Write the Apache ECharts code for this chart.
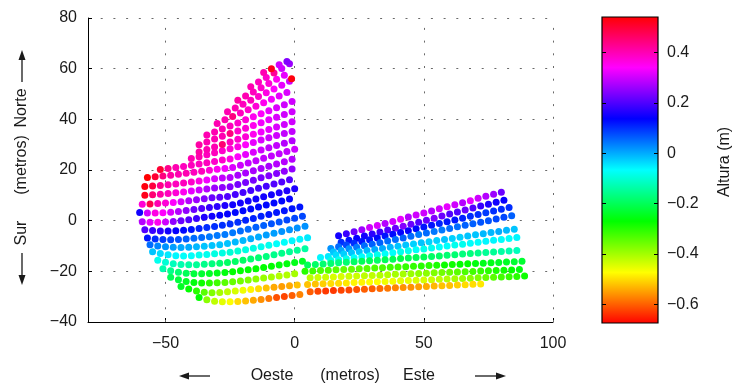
<!DOCTYPE html>
<html><head><meta charset="utf-8">
<script src="https://cdn.jsdelivr.net/npm/echarts@6/dist/echarts.min.js"></script>
<style>html,body{margin:0;padding:0;background:#fff}#c{width:733px;height:385px}</style>
</head><body><div id="c"></div><script>
// ---- data: survey transects, each point [x (m), y (m), altura (m)] ----
const W01 = [[-37,-30.3,-0.27],[-34,-31.2,-0.38],[-31,-31.8,-0.42],[-28,-32,-0.45],[-25,-32,-0.47],[-22,-31.9,-0.5],[-19,-31.7,-0.52],[-16,-31.4,-0.54],[-13,-31.1,-0.56],[-10,-30.7,-0.58],[-7,-30.3,-0.61],[-4,-29.9,-0.62],[-1,-29.5,-0.6],[2,-29.1,-0.57]];
const W02 = [[-44,-26,-0.24],[-41,-27,-0.27],[-38,-27.8,-0.3],[-35,-28.3,-0.34],[-32,-28.5,-0.37],[-29,-28.4,-0.4],[-26,-28.1,-0.42],[-23,-27.8,-0.44],[-20,-27.5,-0.46],[-17,-27.2,-0.48],[-14,-26.9,-0.5],[-11,-26.6,-0.52],[-8,-26.3,-0.54],[-5,-26,-0.55],[-2,-25.7,-0.54],[1,-25.4,-0.52]];
const W03 = [[-48,-22.3,-0.2],[-45,-23.3,-0.22],[-42,-24,-0.24],[-39,-24.4,-0.26],[-36,-24.6,-0.28],[-33,-24.6,-0.3],[-30,-24.5,-0.32],[-27,-24.4,-0.34],[-24,-24.1,-0.35],[-21,-23.8,-0.36],[-18,-23.4,-0.37],[-15,-23,-0.38],[-12,-22.6,-0.39],[-9,-22.2,-0.4],[-6,-21.8,-0.41],[-3,-21.4,-0.41],[0,-21,-0.4]];
const W04 = [[-51,-19,-0.13],[-48,-19.8,-0.16],[-45,-20.4,-0.18],[-42,-20.8,-0.2],[-39,-21,-0.22],[-36,-21,-0.23],[-33,-20.9,-0.24],[-30,-20.7,-0.25],[-27,-20.5,-0.26],[-24,-20.2,-0.27],[-21,-19.8,-0.27],[-18,-19.4,-0.27],[-15,-19,-0.27],[-12,-18.5,-0.27],[-9,-18,-0.27],[-6,-17.5,-0.26],[-3,-17,-0.26],[0,-16.5,-0.25],[3,-16,-0.24]];
const W05 = [[-53,-15.6,-0.08],[-50,-16.4,-0.1],[-47,-17,-0.12],[-44,-17.3,-0.13],[-41,-17.4,-0.14],[-38,-17.4,-0.15],[-35,-17.2,-0.16],[-32,-17,-0.17],[-29,-16.8,-0.18],[-26,-16.5,-0.19],[-23,-16.1,-0.19],[-20,-15.6,-0.19],[-17,-15.1,-0.18],[-14,-14.6,-0.18],[-11,-14.1,-0.17],[-8,-13.5,-0.16],[-5,-12.9,-0.16],[-2,-12.3,-0.15],[1,-11.7,-0.15],[4,-11.1,-0.14]];
const W06 = [[-55,-12.3,-0.02],[-52,-13,-0.04],[-49,-13.5,-0.05],[-46,-13.8,-0.06],[-43,-13.9,-0.07],[-40,-13.8,-0.07],[-37,-13.6,-0.08],[-34,-13.4,-0.08],[-31,-13.1,-0.09],[-28,-12.8,-0.09],[-25,-12.5,-0.1],[-22,-12,-0.1],[-19,-11.5,-0.09],[-16,-10.9,-0.09],[-13,-10.3,-0.08],[-10,-9.7,-0.08],[-7,-9.1,-0.07],[-4,-8.5,-0.07],[-1,-7.9,-0.06],[2,-7.3,-0.06],[5,-6.7,-0.05]];
const W07 = [[-56,-9.5,0.05],[-53,-10,0.03],[-50,-10.3,0.02],[-47,-10.5,0.01],[-44,-10.6,0],[-41,-10.5,0],[-38,-10.3,-0.01],[-35,-10.1,-0.02],[-32,-9.8,-0.02],[-29,-9.5,-0.02],[-26,-9,-0.02],[-23,-8.4,-0.01],[-20,-7.8,-0.01],[-17,-7.1,0],[-14,-6.4,0],[-11,-5.7,0.01],[-8,-5,0.01],[-5,-4.3,0.02],[-2,-3.6,0.02],[1,-2.9,0.02],[4,-2.2,0.02]];
const W08 = [[-57,-6.8,0.12],[-54,-7.2,0.1],[-51,-7.4,0.09],[-48,-7.5,0.08],[-45,-7.4,0.07],[-42,-7.2,0.06],[-39,-6.9,0.05],[-36,-6.6,0.05],[-33,-6.3,0.04],[-30,-5.9,0.04],[-27,-5.5,0.04],[-24,-4.8,0.04],[-21,-4.1,0.05],[-18,-3.4,0.05],[-15,-2.6,0.06],[-12,-1.9,0.06],[-9,-1.2,0.07],[-6,-0.5,0.07],[-3,0.3,0.08],[0,1,0.08],[3,1.7,0.08]];
const W09 = [[-58,-3.6,0.2],[-55,-3.9,0.18],[-52,-4.1,0.17],[-49,-4.1,0.15],[-46,-4,0.14],[-43,-3.8,0.13],[-40,-3.5,0.12],[-37,-3.1,0.11],[-34,-2.7,0.1],[-31,-2.3,0.1],[-28,-1.8,0.1],[-25,-1.3,0.1],[-22,-0.6,0.1],[-19,0.2,0.11],[-16,0.9,0.11],[-13,1.7,0.11],[-10,2.4,0.12],[-7,3.2,0.12],[-4,3.9,0.12],[-1,4.7,0.12],[2,5.4,0.12]];
const W10 = [[-59,-0.4,0.28],[-56,-0.6,0.32],[-53,-0.6,0.35],[-50,-0.5,0.3],[-47,-0.3,0.25],[-44,0,0.22],[-41,0.4,0.2],[-38,0.9,0.18],[-35,1.3,0.16],[-32,1.7,0.15],[-29,2.1,0.14],[-26,2.6,0.14],[-23,3.2,0.13],[-20,3.9,0.13],[-17,4.6,0.13],[-14,5.4,0.13],[-11,6.2,0.13],[-8,7,0.13],[-5,7.8,0.13],[-2,8.6,0.14]];
const W11 = [[-60,3.2,0.15],[-57,3,0.3],[-54,3,0.36],[-51,3.1,0.34],[-48,3.3,0.31],[-45,3.6,0.28],[-42,4,0.25],[-39,4.4,0.22],[-36,4.8,0.2],[-33,5.2,0.18],[-30,5.6,0.17],[-27,6,0.16],[-24,6.3,0.15],[-21,7,0.15],[-18,7.8,0.15],[-15,8.6,0.15],[-12,9.4,0.15],[-9,10.2,0.15],[-6,11,0.16],[-3,11.8,0.16],[0,12.6,0.16]];
const W12 = [[-59,6.5,0.37],[-56,6.6,0.48],[-53,6.8,0.4],[-50,7,0.37],[-47,7.2,0.34],[-44,7.5,0.31],[-41,7.9,0.28],[-38,8.3,0.26],[-35,8.7,0.24],[-32,9,0.22],[-29,9.2,0.21],[-26,9.5,0.2],[-23,10.3,0.19],[-20,11.1,0.19],[-17,11.9,0.19],[-14,12.8,0.19],[-11,13.6,0.19],[-8,14.5,0.2],[-5,15.3,0.2],[-2,16.2,0.2]];
const W13 = [[-58,10,0.52],[-55,10.2,0.45],[-52,10.4,0.41],[-49,10.7,0.39],[-46,11,0.37],[-43,11.3,0.35],[-40,11.7,0.32],[-37,12.1,0.3],[-34,12.5,0.28],[-31,12.9,0.26],[-28,13.1,0.25],[-25,13.4,0.24],[-22,14.3,0.23],[-19,15.1,0.23],[-16,16,0.23],[-13,16.9,0.23],[-10,17.7,0.24],[-7,18.6,0.24],[-4,19.5,0.25],[-1,20.4,0.25]];
const W14 = [[-58,13.5,0.53],[-55,13.7,0.49],[-52,13.9,0.43],[-49,14.2,0.4],[-46,14.5,0.39],[-43,14.9,0.39],[-40,15.3,0.38],[-37,15.7,0.36],[-34,16.1,0.33],[-31,16.5,0.31],[-28,16.8,0.29],[-25,17,0.28],[-22,17.9,0.27],[-19,18.8,0.27],[-16,19.7,0.27],[-13,20.6,0.27],[-10,21.5,0.27],[-7,22.4,0.28],[-4,23.3,0.28],[-1,24.2,0.28]];
const W15 = [[-57,17,0.54],[-54,17.3,0.5],[-51,17.6,0.44],[-48,17.9,0.41],[-45,18.3,0.4],[-42,18.7,0.4],[-39,19.1,0.39],[-36,19.5,0.39],[-33,19.9,0.37],[-30,20.3,0.35],[-27,20.6,0.33],[-24,21,0.31],[-21,21.9,0.3],[-18,22.8,0.29],[-15,23.7,0.29],[-12,24.6,0.29],[-9,25.5,0.29],[-6,26.4,0.29],[-3,27.3,0.29],[0,28.2,0.3]];
const W16 = [[-52,20.2,0.5],[-49,20.6,0.43],[-46,21,0.4],[-43,21.4,0.39],[-40,21.9,0.39],[-37,22.4,0.39],[-34,22.9,0.39],[-31,23.4,0.38],[-28,23.9,0.38],[-25,24.3,0.36],[-22,25.2,0.34],[-19,26.1,0.32],[-16,27,0.31],[-13,27.9,0.3],[-10,28.8,0.29],[-7,29.7,0.29],[-4,30.6,0.28],[-1,31.5,0.28]];
const W17 = [[-40,24.5,0.4],[-37,25.2,0.4],[-34,26,0.39],[-31,26.8,0.39],[-28,27.6,0.38],[-25,28.4,0.37],[-22,29.2,0.36],[-19,30,0.34],[-16,30.9,0.32],[-13,31.8,0.31],[-10,32.7,0.3],[-7,33.6,0.3],[-4,34.4,0.29],[-1,35.2,0.29]];
const W18 = [[-37,27.1,0.41],[-34,28.1,0.4],[-31,29.1,0.4],[-28,30.1,0.45],[-25,31.1,0.39],[-22,32.1,0.38],[-19,33.1,0.37],[-16,34.1,0.35],[-13,35,0.33],[-10,36,0.32],[-7,37,0.31],[-4,38,0.3],[-1,39,0.3]];
const W19 = [[-37,30,0.41],[-34,31.1,0.4],[-31,32.2,0.4],[-28,33.3,0.4],[-25,34.4,0.44],[-22,35.4,0.38],[-19,36.5,0.37],[-16,37.6,0.35],[-13,38.7,0.33],[-10,39.8,0.32],[-7,40.8,0.31],[-4,41.9,0.3],[-1,43,0.3]];
const W20 = [[-34,33.8,0.4],[-31,35,0.4],[-28,36.2,0.4],[-25,37.4,0.39],[-22,38.6,0.38],[-19,39.8,0.37],[-16,41,0.35],[-13,42.2,0.34],[-10,43.4,0.32],[-7,44.6,0.31],[-4,45.8,0.3],[-1,47,0.3]];
const W21 = [[-30,38.4,0.4],[-27,39.8,0.4],[-24,41.1,0.44],[-21,42.5,0.39],[-18,43.8,0.38],[-15,45.2,0.37],[-12,46.5,0.35],[-9,47.9,0.33],[-6,49.2,0.32],[-3,50.6,0.31]];
const W22 = [[-26,43,0.4],[-23,44.5,0.4],[-20,46,0.39],[-17,47.5,0.39],[-14,49,0.38],[-11,50.5,0.36],[-8,52,0.34],[-5,53.5,0.32],[-2,55,0.3]];
const W23 = [[-22,47.5,0.41],[-19,49.2,0.4],[-16,50.8,0.39],[-13,52.5,0.38],[-10,54.1,0.37],[-7,55.8,0.35],[-4,57.4,0.32]];
const W24 = [[-17,52.9,0.4],[-14,54.7,0.39],[-11,56.5,0.38],[-8,58.3,0.42],[-5,60.1,0.3],[-2,61.9,0.26]];
const W25 = [[-12,58.5,0.4],[-9,60,0.52],[-6,61.5,0.3],[-3,62.8,0.24]];
const EXTRA = [[-1.2,56,0.53]];
const E01 = [[17,-6,0.15],[20,-5.2,0.18],[23,-4.4,0.22],[26,-3.6,0.26],[29,-2.7,0.3],[32,-1.9,0.31],[35,-1.1,0.28],[38,-0.3,0.3],[41,0.6,0.32],[44,1.4,0.28],[47,2.2,0.3],[50,3,0.3],[53,3.8,0.28],[56,4.7,0.3],[59,5.5,0.32],[62,6.3,0.3],[65,7.1,0.28],[68,7.9,0.32],[71,8.8,0.3],[74,9.6,0.28],[77,10.4,0.26],[80,11.2,0.22]];
const E02 = [[18,-8.5,0.1],[21,-7.7,0.12],[24,-6.9,0.14],[27,-6.1,0.15],[30,-5.3,0.17],[33,-4.5,0.18],[36,-3.7,0.2],[39,-3,0.22],[42,-2.2,0.24],[45,-1.4,0.22],[48,-0.6,0.2],[51,0.2,0.22],[54,1,0.24],[57,1.8,0.22],[60,2.6,0.2],[63,3.4,0.2],[66,4.2,0.22],[69,5,0.2],[72,5.8,0.18],[75,6.5,0.16],[78,7.3,0.15],[81,8.1,0.14]];
const E03 = [[14,-11,0.02],[17,-10.3,0.05],[20,-9.6,0.08],[23,-8.9,0.1],[26,-8.2,0.12],[29,-7.5,0.12],[32,-6.8,0.13],[35,-6.1,0.12],[38,-5.4,0.13],[41,-4.7,0.14],[44,-4,0.14],[47,-3.2,0.13],[50,-2.5,0.12],[53,-1.8,0.12],[56,-1.1,0.11],[59,-0.4,0.12],[62,0.3,0.12],[65,1,0.11],[68,1.7,0.1],[71,2.4,0.1],[74,3.1,0.09],[77,3.8,0.1],[80,4.5,0.1],[83,5.2,0.1]];
const E04 = [[15,-12.4,-0.02],[18,-11.8,0],[21,-11.1,0.02],[24,-10.5,0.04],[27,-9.9,0.05],[30,-9.3,0.06],[33,-8.7,0.06],[36,-8,0.05],[39,-7.4,0.05],[42,-6.8,0.06],[45,-6.2,0.05],[48,-5.5,0.04],[51,-4.9,0.05],[54,-4.3,0.04],[57,-3.7,0.04],[60,-3.1,0.05],[63,-2.4,0.05],[66,-1.8,0.06],[69,-1.2,0.06],[72,-0.6,0.07],[75,0,0.07],[78,0.7,0.08],[81,1.3,0.08],[84,1.9,0.06]];
const E05 = [[10,-14.5,-0.06],[13,-14.1,-0.05],[16,-13.6,-0.04],[19,-13.2,-0.03],[22,-12.7,-0.02],[25,-12.3,-0.02],[28,-11.8,-0.01],[31,-11.4,0],[34,-11,0],[37,-10.5,-0.01],[40,-10.1,-0.02],[43,-9.6,-0.02],[46,-9.2,-0.03],[49,-8.7,-0.02],[52,-8.3,-0.03],[55,-7.8,-0.03],[58,-7.4,-0.02],[61,-7,-0.03],[64,-6.5,-0.03],[67,-6.1,-0.02],[70,-5.6,-0.02],[73,-5.2,-0.01],[76,-4.7,-0.01],[79,-4.3,0],[82,-3.8,-0.01],[85,-3.4,-0.02]];
const E06 = [[14,-15.7,-0.09],[17,-15.4,-0.08],[20,-15,-0.08],[23,-14.6,-0.07],[26,-14.2,-0.07],[29,-13.8,-0.08],[32,-13.5,-0.08],[35,-13.1,-0.07],[38,-12.7,-0.07],[41,-12.3,-0.08],[44,-11.9,-0.08],[47,-11.5,-0.07],[50,-11.2,-0.08],[53,-10.8,-0.08],[56,-10.4,-0.07],[59,-10,-0.07],[62,-9.6,-0.08],[65,-9.3,-0.08],[68,-8.9,-0.07],[71,-8.5,-0.07],[74,-8.1,-0.06],[77,-7.7,-0.06],[80,-7.4,-0.07],[83,-7,-0.07],[86,-6.6,-0.06]];
const E07 = [[5,-17.5,-0.2],[8,-17.3,-0.19],[11,-17.1,-0.18],[14,-16.9,-0.18],[17,-16.6,-0.17],[20,-16.4,-0.18],[23,-16.2,-0.19],[26,-16,-0.2],[29,-15.8,-0.2],[32,-15.6,-0.19],[35,-15.4,-0.2],[38,-15.2,-0.2],[41,-14.9,-0.21],[44,-14.7,-0.2],[47,-14.5,-0.2],[50,-14.3,-0.2],[53,-14.1,-0.19],[56,-13.9,-0.19],[59,-13.7,-0.18],[62,-13.5,-0.18],[65,-13.2,-0.17],[68,-13,-0.17],[71,-12.8,-0.16],[74,-12.6,-0.15],[77,-12.4,-0.15],[80,-12.2,-0.14],[83,-12,-0.13],[86,-11.8,-0.12]];
const E08 = [[4,-20,-0.3],[7,-19.9,-0.32],[10,-19.7,-0.33],[13,-19.6,-0.33],[16,-19.4,-0.34],[19,-19.3,-0.35],[22,-19.2,-0.35],[25,-19,-0.34],[28,-18.9,-0.34],[31,-18.7,-0.33],[34,-18.6,-0.33],[37,-18.4,-0.32],[40,-18.3,-0.32],[43,-18.2,-0.31],[46,-18,-0.31],[49,-17.9,-0.3],[52,-17.7,-0.3],[55,-17.6,-0.29],[58,-17.5,-0.28],[61,-17.3,-0.28],[64,-17.2,-0.27],[67,-17,-0.27],[70,-16.9,-0.26],[73,-16.8,-0.25],[76,-16.6,-0.25],[79,-16.5,-0.24],[82,-16.3,-0.24],[85,-16.2,-0.23],[88,-16,-0.23]];
const E09 = [[6,-22.5,-0.42],[9,-22.4,-0.43],[12,-22.3,-0.43],[15,-22.2,-0.44],[18,-22,-0.44],[21,-21.9,-0.43],[24,-21.8,-0.43],[27,-21.7,-0.42],[30,-21.6,-0.42],[33,-21.5,-0.41],[36,-21.3,-0.41],[39,-21.2,-0.4],[42,-21.1,-0.4],[45,-21,-0.39],[48,-20.9,-0.38],[51,-20.8,-0.38],[54,-20.6,-0.37],[57,-20.5,-0.36],[60,-20.4,-0.35],[63,-20.3,-0.34],[66,-20.2,-0.33],[69,-20.1,-0.32],[72,-19.9,-0.31],[75,-19.8,-0.3],[78,-19.7,-0.29],[81,-19.6,-0.28],[84,-19.5,-0.27],[87,-19.3,-0.26]];
const E10 = [[5,-25.2,-0.52],[8,-25,-0.52],[11,-24.9,-0.51],[14,-24.8,-0.5],[17,-24.7,-0.5],[20,-24.6,-0.49],[23,-24.4,-0.48],[26,-24.3,-0.48],[29,-24.2,-0.47],[32,-24.1,-0.47],[35,-24,-0.46],[38,-23.9,-0.46],[41,-23.7,-0.45],[44,-23.6,-0.45],[47,-23.5,-0.44],[50,-23.4,-0.44],[53,-23.3,-0.43],[56,-23.1,-0.42],[59,-23,-0.41],[62,-22.9,-0.4],[65,-22.8,-0.39],[68,-22.7,-0.38],[71,-22.5,-0.37],[74,-22.4,-0.35],[77,-22.3,-0.34],[80,-22.2,-0.32],[83,-22.1,-0.31],[86,-22,-0.3],[89,-21.8,-0.28]];
const E11 = [[6,-28.1,-0.6],[9,-27.9,-0.62],[12,-27.8,-0.63],[15,-27.6,-0.63],[18,-27.5,-0.62],[21,-27.4,-0.62],[24,-27.2,-0.61],[27,-27.1,-0.6],[30,-26.9,-0.6],[33,-26.8,-0.59],[36,-26.7,-0.58],[39,-26.5,-0.57],[42,-26.4,-0.56],[45,-26.3,-0.56],[48,-26.1,-0.55],[51,-26,-0.54],[54,-25.8,-0.53],[57,-25.7,-0.52],[60,-25.6,-0.52],[63,-25.4,-0.51],[66,-25.3,-0.5],[69,-25.1,-0.5],[72,-25,-0.49]];

const westRows = [W01,W02,W03,W04,W05,W06,W07,W08,W09,W10,W11,W12,W13,W14,W15,W16,W17,W18,W19,W20,W21,W22,W23,W24,W25,EXTRA];
const eastRows = [E01,E02,E03,E04,E05,E06,E07,E08,E09,E10,E11];

const xTicks = [-50, 0, 50, 100];
const yRange = [-40, 80];
const xRange = [-80, 100];
const cbTicks = [-0.6, -0.4, -0.2, 0, 0.2, 0.4];
const zRange = [-0.6745, 0.541];
const hsv = ['#ff0000','#ffff00','#00ff00','#00ffff','#0000ff','#ff00ff','#ff0000'];

// ---- chart ----
const points = [].concat(...westRows, ...eastRows);
const FONT = '"Liberation Sans", Arial, sans-serif';
const TXT = '#1a1a1a';
const fmt = v => String(v).replace('-', '\u2212');
const dotted = {type: [2, 10.7], color: '#6a6a6a', width: 1};
const cbGrad = {type:'linear', x:0, y:0, x2:0, y2:1,
  colorStops: hsv.slice().reverse().map((c,i,a)=>({offset:i/(a.length-1), color:c}))};

const chart = echarts.init(document.getElementById('c'), null, {renderer:'canvas'});
const arrowStyle = {stroke: TXT, lineWidth: 1.3};
chart.setOption({
  animation: false,
  backgroundColor: '#fff',
  grid: [
    {left: 88, top: 18, width: 465, height: 304, show: false},
    {left: 602, top: 17, width: 56, height: 306, show: true, borderColor: '#000', borderWidth: 1.2, backgroundColor: cbGrad}
  ],
  xAxis: [
    {gridIndex: 0, type: 'value', min: xRange[0], max: xRange[1],
     axisLine: {show: true, onZero: false, lineStyle: {color: '#000', width: 1}},
     axisTick: {show: true, inside: true, length: 4, customValues: xTicks, lineStyle: {color: '#000'}},
     axisLabel: {customValues: xTicks, formatter: fmt, fontSize: 16, color: TXT, fontFamily: FONT, margin: 14},
     splitLine: {show: false}},
    {gridIndex: 1, type: 'value', min: 0, max: 1, show: false}
  ],
  yAxis: [
    {gridIndex: 0, type: 'value', min: yRange[0], max: yRange[1], interval: 20,
     axisLine: {show: true, onZero: false, lineStyle: {color: '#000', width: 1}},
     axisTick: {show: true, inside: true, length: 4, lineStyle: {color: '#000'}},
     axisLabel: {formatter: fmt, fontSize: 16, color: TXT, fontFamily: FONT, margin: 11},
     splitLine: {show: true, lineStyle: dotted}},
    {gridIndex: 1, type: 'value', min: zRange[0], max: zRange[1], position: 'left',
     axisLine: {show: false}, axisLabel: {show: false}, splitLine: {show: false},
     axisTick: {show: true, inside: true, length: 4, customValues: cbTicks, lineStyle: {color: '#000'}}},
    {gridIndex: 1, type: 'value', min: zRange[0], max: zRange[1], position: 'right',
     axisLine: {show: false}, splitLine: {show: false},
     axisTick: {show: true, inside: true, length: 4, customValues: cbTicks, lineStyle: {color: '#000'}},
     axisLabel: {customValues: cbTicks, formatter: fmt, fontSize: 16, color: TXT, fontFamily: FONT, margin: 9}}
  ],
  visualMap: {type: 'continuous', show: false, min: zRange[0], max: zRange[1], dimension: 2, seriesIndex: 0,
    inRange: {color: hsv}},
  series: [{
    type: 'scatter', xAxisIndex: 0, yAxisIndex: 0, data: points, symbolSize: 7,
    itemStyle: {opacity: 1}, silent: true,
    markLine: {silent: true, symbol: 'none', z: 1, label: {show: false}, lineStyle: dotted,
      data: xTicks.map(v => ({xAxis: v}))}
  }],
  graphic: [
    {type:'text', x:272, y:376, style:{text:'Oeste', font:'16px '+FONT, fill:TXT, align:'center', verticalAlign:'middle'}},
    {type:'text', x:350, y:376, style:{text:'(metros)', font:'16px '+FONT, fill:TXT, align:'center', verticalAlign:'middle'}},
    {type:'text', x:419, y:376, style:{text:'Este', font:'16px '+FONT, fill:TXT, align:'center', verticalAlign:'middle'}},
    {type:'line', shape:{x1:210,y1:376,x2:184,y2:376}, style:arrowStyle},
    {type:'polygon', shape:{points:[[179,376],[189,372.5],[189,379.5]]}, style:{fill:TXT}},
    {type:'line', shape:{x1:475,y1:376,x2:501,y2:376}, style:arrowStyle},
    {type:'polygon', shape:{points:[[506,376],[496,372.5],[496,379.5]]}, style:{fill:TXT}},
    {type:'text', x:22, y:108, rotation:Math.PI/2, style:{text:'Norte', font:'16px '+FONT, fill:TXT, align:'center', verticalAlign:'middle'}},
    {type:'text', x:22, y:165, rotation:Math.PI/2, style:{text:'(metros)', font:'16px '+FONT, fill:TXT, align:'center', verticalAlign:'middle'}},
    {type:'text', x:22, y:233, rotation:Math.PI/2, style:{text:'Sur', font:'16px '+FONT, fill:TXT, align:'center', verticalAlign:'middle'}},
    {type:'line', shape:{x1:22,y1:82,x2:22,y2:55}, style:arrowStyle},
    {type:'polygon', shape:{points:[[22,50],[18.5,60],[25.5,60]]}, style:{fill:TXT}},
    {type:'line', shape:{x1:22,y1:253,x2:22,y2:280}, style:arrowStyle},
    {type:'polygon', shape:{points:[[22,285],[18.5,275],[25.5,275]]}, style:{fill:TXT}},
    {type:'text', x:725, y:162, rotation:Math.PI/2, style:{text:'Altura (m)', font:'16px '+FONT, fill:TXT, align:'center', verticalAlign:'middle'}}
  ]
});
</script></body></html>
